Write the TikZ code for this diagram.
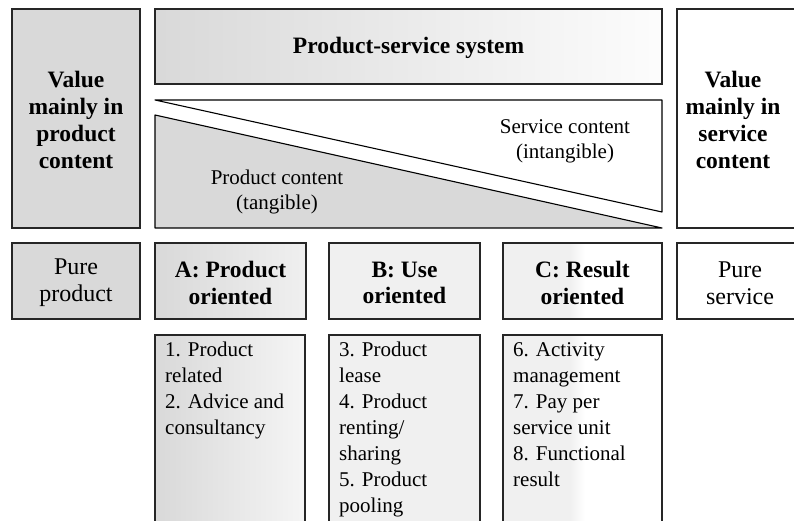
\documentclass[tikz,border=0pt]{standalone}
\usepackage{fontspec}
\setmainfont{Liberation Serif}
\begin{document}
\begin{tikzpicture}[x=1pt,y=-1pt,
  box/.style={draw=black!85, line width=1.1pt},
  hdr/.style={font=\fontsize{23.5}{26.7}\selectfont\bfseries, align=center, inner sep=0pt},
  reg/.style={font=\fontsize{24}{26.7}\selectfont, align=center, inner sep=0pt},
  lst/.style={font=\fontsize{21}{26}\selectfont, align=left, inner sep=0pt, anchor=north west},
  tri/.style={font=\fontsize{21}{25}\selectfont, align=center, inner sep=0pt},
  trishape/.style={draw=black, line width=1.1pt, line join=round}]
\useasboundingbox (0,0) rectangle (794,521);
\begin{scope}
\clip (0,0) rectangle (794,521);
% left and right tall boxes
\draw[box, fill=black!15] (12,9) rectangle (140,228);
\node[hdr] (lbox) at (76,120) {Value\\mainly in\\product\\content};
\draw[box, fill=white] (677,9) rectangle (805,228);
\node[hdr] (rbox) at (733,120) {Value\\mainly in\\service\\content};
% PSS header
\draw[box, left color=black!15, right color=black!1] (155,9) rectangle (662,84);
\node[hdr] (pss) at (408.5,48) {Product-service system};
% triangles
\draw[trishape, fill=white] (155,100) -- (662,100) -- (662,212) -- cycle;
\draw[trishape, fill=black!15] (155,115) -- (662,228) -- (155,228) -- cycle;
\node[tri] (svc) at (565,141) {Service content\\(intangible)};
\node[tri] (prd) at (277,192) {Product content\\(tangible)};
% second row
\draw[box, fill=black!15] (12,243) rectangle (140,319);
\node[reg] (pp) at (76,283) {Pure\\product};
\draw[box, left color=black!15, right color=black!6] (155,243) rectangle (306,319);
\node[hdr] (a) at (230.5,283) {A: Product\\oriented};
\draw[box, fill=black!6] (329,243) rectangle (480,319);
\node[hdr] (b) at (404.5,283) {B: Use\\oriented};
\fill[black!6] (503,243) rectangle (570,319);
\shade[left color=black!6, right color=white] (570,243) rectangle (585,319);
\fill[white] (585,243) rectangle (662,319);
\draw[box] (503,243) rectangle (662,319);
\node[hdr] (c) at (582.5,283) {C: Result\\oriented};
\draw[box, fill=white] (677,243) rectangle (805,319);
\node[reg] (ps) at (740,283) {Pure\\service};
% lower lists
\draw[box, left color=black!15, right color=black!4] (155,335) rectangle (305,535);
\node[lst] (la) at (165,342) {1. Product\\related\\2. Advice and\\consultancy};
\draw[box, fill=black!6] (329,335) rectangle (480,535);
\node[lst] (lb) at (339,342) {3. Product\\lease\\4. Product\\renting/\\sharing\\5. Product\\pooling};
\fill[black!6] (503,335) rectangle (570,535);
\shade[left color=black!6, right color=white] (570,335) rectangle (585,535);
\fill[white] (585,335) rectangle (662,535);
\draw[box] (503,335) rectangle (662,535);
\node[lst] (lc) at (513,342) {6. Activity\\management\\7. Pay per\\service unit\\8. Functional\\result};
\end{scope}
\end{tikzpicture}
\end{document}
